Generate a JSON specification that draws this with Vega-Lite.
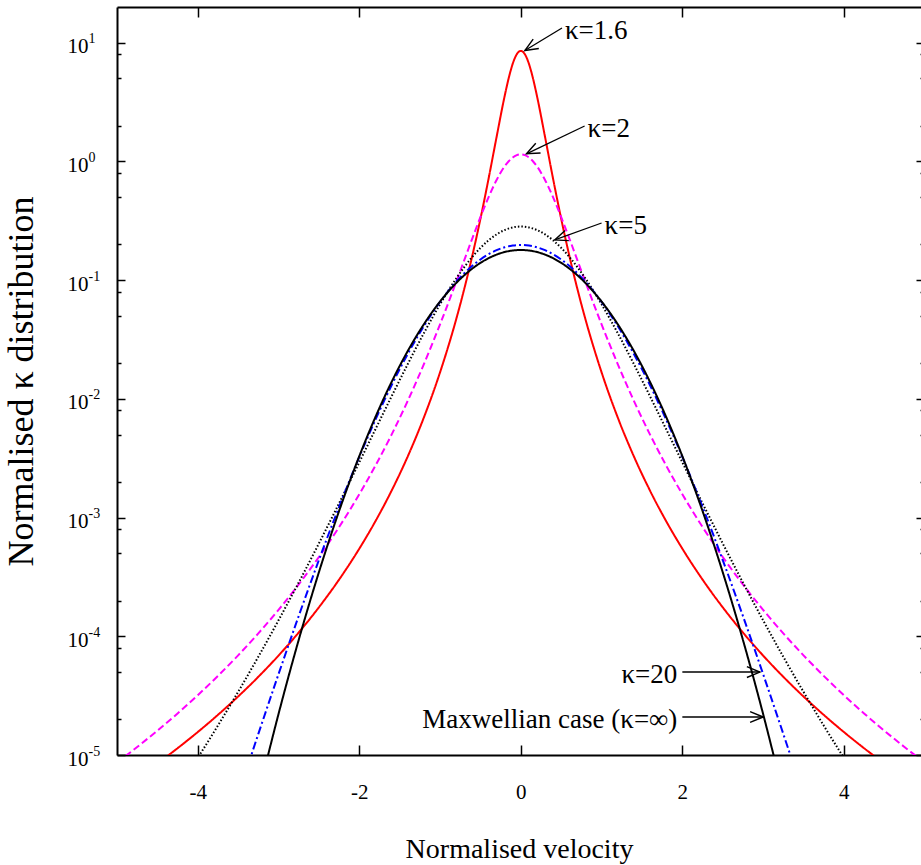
{
  "$schema": "https://vega.github.io/schema/vega-lite/v6.json",
  "width": 804,
  "height": 748,
  "autosize": "none",
  "padding": {"left": 117, "top": 7, "right": 0, "bottom": 110},
  "background": "white",
  "config": {"view": {"stroke": null}, "font": "Liberation Serif", "axis": {"grid": false}},
  "datasets": {
    "curves": [
      {"k":"k16","v":-5,"f":4.921e-6},{"k":"k16","v":-4.75,"f":6.417e-6},{"k":"k16","v":-4.5,"f":8.490e-6},{"k":"k16","v":-4.25,"f":1.141e-5},{"k":"k16","v":-4,"f":1.561e-5},{"k":"k16","v":-3.75,"f":2.179e-5},{"k":"k16","v":-3.5,"f":3.111e-5},{"k":"k16","v":-3.25,"f":4.558e-5},{"k":"k16","v":-3,"f":6.881e-5},{"k":"k16","v":-2.75,"f":1.076e-4},{"k":"k16","v":-2.5,"f":1.754e-4},{"k":"k16","v":-2.25,"f":3.004e-4},{"k":"k16","v":-2,"f":5.469e-4},{"k":"k16","v":-1.8,"f":9.320e-4},{"k":"k16","v":-1.6,"f":1.685e-3},{"k":"k16","v":-1.4,"f":3.274e-3},{"k":"k16","v":-1.2,"f":6.976e-3},{"k":"k16","v":-1,"f":0.01673},{"k":"k16","v":-0.8,"f":0.04690},{"k":"k16","v":-0.7,"f":0.08452},{"k":"k16","v":-0.6,"f":0.1614},{"k":"k16","v":-0.5,"f":0.3285},{"k":"k16","v":-0.4,"f":0.7116},{"k":"k16","v":-0.3,"f":1.608},{"k":"k16","v":-0.2,"f":3.558},{"k":"k16","v":-0.15,"f":5.035},{"k":"k16","v":-0.1,"f":6.661},{"k":"k16","v":-0.05,"f":8.004},
      {"k":"k16","v":0,"f":8.534},
      {"k":"k16","v":0.05,"f":8.004},{"k":"k16","v":0.1,"f":6.661},{"k":"k16","v":0.15,"f":5.035},{"k":"k16","v":0.2,"f":3.558},{"k":"k16","v":0.3,"f":1.608},{"k":"k16","v":0.4,"f":0.7116},{"k":"k16","v":0.5,"f":0.3285},{"k":"k16","v":0.6,"f":0.1614},{"k":"k16","v":0.7,"f":0.08452},{"k":"k16","v":0.8,"f":0.04690},{"k":"k16","v":1,"f":0.01673},{"k":"k16","v":1.2,"f":6.976e-3},{"k":"k16","v":1.4,"f":3.274e-3},{"k":"k16","v":1.6,"f":1.685e-3},{"k":"k16","v":1.8,"f":9.320e-4},{"k":"k16","v":2,"f":5.469e-4},{"k":"k16","v":2.25,"f":3.004e-4},{"k":"k16","v":2.5,"f":1.754e-4},{"k":"k16","v":2.75,"f":1.076e-4},{"k":"k16","v":3,"f":6.881e-5},{"k":"k16","v":3.25,"f":4.558e-5},{"k":"k16","v":3.5,"f":3.111e-5},{"k":"k16","v":3.75,"f":2.179e-5},{"k":"k16","v":4,"f":1.561e-5},{"k":"k16","v":4.25,"f":1.141e-5},{"k":"k16","v":4.5,"f":8.490e-6},{"k":"k16","v":4.75,"f":6.417e-6},{"k":"k16","v":5,"f":4.921e-6},

      {"k":"k2","v":-5,"f":8.642e-6},{"k":"k2","v":-4.75,"f":1.168e-5},{"k":"k2","v":-4.5,"f":1.604e-5},{"k":"k2","v":-4.25,"f":2.240e-5},{"k":"k2","v":-4,"f":3.190e-5},{"k":"k2","v":-3.75,"f":4.640e-5},{"k":"k2","v":-3.5,"f":6.913e-5},{"k":"k2","v":-3.25,"f":1.058e-4},{"k":"k2","v":-3,"f":1.671e-4},{"k":"k2","v":-2.75,"f":2.734e-4},{"k":"k2","v":-2.5,"f":4.659e-4},{"k":"k2","v":-2.25,"f":8.325e-4},{"k":"k2","v":-2,"f":1.572e-3},{"k":"k2","v":-1.8,"f":2.739e-3},{"k":"k2","v":-1.6,"f":5.001e-3},{"k":"k2","v":-1.4,"f":9.625e-3},{"k":"k2","v":-1.2,"f":0.01963},{"k":"k2","v":-1,"f":0.04246},{"k":"k2","v":-0.8,"f":0.09672},{"k":"k2","v":-0.7,"f":0.1477},{"k":"k2","v":-0.6,"f":0.2253},{"k":"k2","v":-0.5,"f":0.3397},{"k":"k2","v":-0.4,"f":0.4984},{"k":"k2","v":-0.3,"f":0.6977},{"k":"k2","v":-0.2,"f":0.9100},{"k":"k2","v":-0.15,"f":1.0045},{"k":"k2","v":-0.1,"f":1.0802},{"k":"k2","v":-0.05,"f":1.1293},
      {"k":"k2","v":0,"f":1.1463},
      {"k":"k2","v":0.05,"f":1.1293},{"k":"k2","v":0.1,"f":1.0802},{"k":"k2","v":0.15,"f":1.0045},{"k":"k2","v":0.2,"f":0.9100},{"k":"k2","v":0.3,"f":0.6977},{"k":"k2","v":0.4,"f":0.4984},{"k":"k2","v":0.5,"f":0.3397},{"k":"k2","v":0.6,"f":0.2253},{"k":"k2","v":0.7,"f":0.1477},{"k":"k2","v":0.8,"f":0.09672},{"k":"k2","v":1,"f":0.04246},{"k":"k2","v":1.2,"f":0.01963},{"k":"k2","v":1.4,"f":9.625e-3},{"k":"k2","v":1.6,"f":5.001e-3},{"k":"k2","v":1.8,"f":2.739e-3},{"k":"k2","v":2,"f":1.572e-3},{"k":"k2","v":2.25,"f":8.325e-4},{"k":"k2","v":2.5,"f":4.659e-4},{"k":"k2","v":2.75,"f":2.734e-4},{"k":"k2","v":3,"f":1.671e-4},{"k":"k2","v":3.25,"f":1.058e-4},{"k":"k2","v":3.5,"f":6.913e-5},{"k":"k2","v":3.75,"f":4.640e-5},{"k":"k2","v":4,"f":3.190e-5},{"k":"k2","v":4.25,"f":2.240e-5},{"k":"k2","v":4.5,"f":1.604e-5},{"k":"k2","v":4.75,"f":1.168e-5},{"k":"k2","v":5,"f":8.642e-6},

      {"k":"k5","v":-4.25,"f":5.175e-6},{"k":"k5","v":-4,"f":9.461e-6},{"k":"k5","v":-3.75,"f":1.773e-5},{"k":"k5","v":-3.5,"f":3.408e-5},{"k":"k5","v":-3.25,"f":6.726e-5},{"k":"k5","v":-3,"f":1.364e-4},{"k":"k5","v":-2.75,"f":2.838e-4},{"k":"k5","v":-2.5,"f":6.055e-4},{"k":"k5","v":-2.25,"f":1.320e-3},{"k":"k5","v":-2,"f":2.923e-3},{"k":"k5","v":-1.8,"f":5.548e-3},{"k":"k5","v":-1.6,"f":0.01050},{"k":"k5","v":-1.4,"f":0.01963},{"k":"k5","v":-1.2,"f":0.03579},{"k":"k5","v":-1,"f":0.06264},{"k":"k5","v":-0.8,"f":0.1033},{"k":"k5","v":-0.7,"f":0.1289},{"k":"k5","v":-0.6,"f":0.1573},{"k":"k5","v":-0.5,"f":0.1870},{"k":"k5","v":-0.4,"f":0.2164},{"k":"k5","v":-0.3,"f":0.2430},{"k":"k5","v":-0.2,"f":0.2643},{"k":"k5","v":-0.1,"f":0.2781},
      {"k":"k5","v":0,"f":0.2829},
      {"k":"k5","v":0.1,"f":0.2781},{"k":"k5","v":0.2,"f":0.2643},{"k":"k5","v":0.3,"f":0.2430},{"k":"k5","v":0.4,"f":0.2164},{"k":"k5","v":0.5,"f":0.1870},{"k":"k5","v":0.6,"f":0.1573},{"k":"k5","v":0.7,"f":0.1289},{"k":"k5","v":0.8,"f":0.1033},{"k":"k5","v":1,"f":0.06264},{"k":"k5","v":1.2,"f":0.03579},{"k":"k5","v":1.4,"f":0.01963},{"k":"k5","v":1.6,"f":0.01050},{"k":"k5","v":1.8,"f":5.548e-3},{"k":"k5","v":2,"f":2.923e-3},{"k":"k5","v":2.25,"f":1.320e-3},{"k":"k5","v":2.5,"f":6.055e-4},{"k":"k5","v":2.75,"f":2.838e-4},{"k":"k5","v":3,"f":1.364e-4},{"k":"k5","v":3.25,"f":6.726e-5},{"k":"k5","v":3.5,"f":3.408e-5},{"k":"k5","v":3.75,"f":1.773e-5},{"k":"k5","v":4,"f":9.461e-6},{"k":"k5","v":4.25,"f":5.175e-6},

      {"k":"k20","v":-3.5,"f":4.599e-6},{"k":"k20","v":-3.25,"f":1.505e-5},{"k":"k20","v":-3,"f":4.802e-5},{"k":"k20","v":-2.75,"f":1.483e-4},{"k":"k20","v":-2.5,"f":4.389e-4},{"k":"k20","v":-2.25,"f":1.232e-3},{"k":"k20","v":-2,"f":3.248e-3},{"k":"k20","v":-1.8,"f":6.682e-3},{"k":"k20","v":-1.6,"f":0.01303},{"k":"k20","v":-1.4,"f":0.02390},{"k":"k20","v":-1.2,"f":0.04104},{"k":"k20","v":-1,"f":0.06556},{"k":"k20","v":-0.8,"f":0.09697},{"k":"k20","v":-0.7,"f":0.11439},{"k":"k20","v":-0.6,"f":0.13214},{"k":"k20","v":-0.5,"f":0.14941},{"k":"k20","v":-0.4,"f":0.16529},{"k":"k20","v":-0.3,"f":0.17887},{"k":"k20","v":-0.2,"f":0.18928},{"k":"k20","v":-0.1,"f":0.19582},
      {"k":"k20","v":0,"f":0.19806},
      {"k":"k20","v":0.1,"f":0.19582},{"k":"k20","v":0.2,"f":0.18928},{"k":"k20","v":0.3,"f":0.17887},{"k":"k20","v":0.4,"f":0.16529},{"k":"k20","v":0.5,"f":0.14941},{"k":"k20","v":0.6,"f":0.13214},{"k":"k20","v":0.7,"f":0.11439},{"k":"k20","v":0.8,"f":0.09697},{"k":"k20","v":1,"f":0.06556},{"k":"k20","v":1.2,"f":0.04104},{"k":"k20","v":1.4,"f":0.02390},{"k":"k20","v":1.6,"f":0.01303},{"k":"k20","v":1.8,"f":6.682e-3},{"k":"k20","v":2,"f":3.248e-3},{"k":"k20","v":2.25,"f":1.232e-3},{"k":"k20","v":2.5,"f":4.389e-4},{"k":"k20","v":2.75,"f":1.483e-4},{"k":"k20","v":3,"f":4.802e-5},{"k":"k20","v":3.25,"f":1.505e-5},{"k":"k20","v":3.5,"f":4.599e-6},

      {"k":"kinf","v":-3.25,"f":4.646e-6},{"k":"kinf","v":-3,"f":2.216e-5},{"k":"kinf","v":-2.75,"f":9.331e-5},{"k":"kinf","v":-2.5,"f":3.467e-4},{"k":"kinf","v":-2.25,"f":1.137e-3},{"k":"kinf","v":-2,"f":3.289e-3},{"k":"kinf","v":-1.8,"f":7.033e-3},{"k":"kinf","v":-1.6,"f":0.01388},{"k":"kinf","v":-1.4,"f":0.02530},{"k":"kinf","v":-1.2,"f":0.04255},{"k":"kinf","v":-1,"f":0.06607},{"k":"kinf","v":-0.8,"f":0.09470},{"k":"kinf","v":-0.7,"f":0.11002},{"k":"kinf","v":-0.6,"f":0.12529},{"k":"kinf","v":-0.5,"f":0.13986},{"k":"kinf","v":-0.4,"f":0.15303},{"k":"kinf","v":-0.3,"f":0.16413},{"k":"kinf","v":-0.2,"f":0.17255},{"k":"kinf","v":-0.1,"f":0.17780},
      {"k":"kinf","v":0,"f":0.17959},
      {"k":"kinf","v":0.1,"f":0.17780},{"k":"kinf","v":0.2,"f":0.17255},{"k":"kinf","v":0.3,"f":0.16413},{"k":"kinf","v":0.4,"f":0.15303},{"k":"kinf","v":0.5,"f":0.13986},{"k":"kinf","v":0.6,"f":0.12529},{"k":"kinf","v":0.7,"f":0.11002},{"k":"kinf","v":0.8,"f":0.09470},{"k":"kinf","v":1,"f":0.06607},{"k":"kinf","v":1.2,"f":0.04255},{"k":"kinf","v":1.4,"f":0.02530},{"k":"kinf","v":1.6,"f":0.01388},{"k":"kinf","v":1.8,"f":7.033e-3},{"k":"kinf","v":2,"f":3.289e-3},{"k":"kinf","v":2.25,"f":1.137e-3},{"k":"kinf","v":2.5,"f":3.467e-4},{"k":"kinf","v":2.75,"f":9.331e-5},{"k":"kinf","v":3,"f":2.216e-5},{"k":"kinf","v":3.25,"f":4.646e-6}
    ],
    "arrows": [
      {"id":"a16","text":"κ=1.6","v0":0.51,"f0":13.3,"v1":0.05,"f1":8.6},
      {"id":"a2","text":"κ=2","v0":0.79,"f0":1.99,"v1":0.07,"f1":1.16},
      {"id":"a5","text":"κ=5","v0":1.0,"f0":0.303,"v1":0.42,"f1":0.218},
      {"id":"a20","text":"κ=20","v0":2.0,"f0":5.0e-5,"v1":2.96,"f1":5.0e-5},
      {"id":"ainf","text":"Maxwellian case (κ=∞)","v0":2.0,"f0":2.09e-5,"v1":3.0,"f1":2.09e-5}
    ]
  },
  "resolve": {"axis": {"x": "independent", "y": "independent"}},
  "layer": [
    {
      "data": {"name": "curves"},
      "mark": {"type": "line", "clip": true, "interpolate": "monotone", "strokeWidth": 2},
      "encoding": {
        "x": {"field": "v", "type": "quantitative",
          "scale": {"domain": [-5, 4.955], "nice": false, "zero": false},
          "axis": {"orient": "bottom", "values": [-4, -2, 0, 2, 4], "tickSize": -10, "tickWidth": 1.5, "tickColor": "black",
            "domainColor": "black", "domainWidth": 2, "labelFont": "Liberation Serif", "labelFontSize": 21, "labelColor": "black",
            "labelExpr": "datum.value < 0 ? '-' + abs(datum.value) : '' + datum.value",
            "labelPadding": 47, "labelBaseline": "middle", "labelFlush": false, "labelOverlap": false,
            "title": "Normalised velocity", "titleFont": "Liberation Serif", "titleFontSize": 28, "titleFontWeight": "normal",
            "titleColor": "black", "titleY": 102, "titleBaseline": "alphabetic", "grid": false}},
        "y": {"field": "f", "type": "quantitative",
          "scale": {"type": "log", "domain": [1e-5, 20], "nice": false},
          "axis": {"orient": "left",
            "values": [1e-5, 2e-5, 5e-5, 8e-5, 1e-4, 2e-4, 5e-4, 8e-4, 0.001, 0.002, 0.005, 0.008, 0.01, 0.02, 0.05, 0.08, 0.1, 0.2, 0.5, 0.8, 1, 2, 5, 8, 10],
            "tickSize": {"condition": {"test": "abs(log(datum.value)/LN10 - round(log(datum.value)/LN10)) < 0.01", "value": -8}, "value": -4},
            "tickWidth": 1.5, "tickColor": "black", "domainColor": "black", "domainWidth": 2,
            "labelExpr": "abs(log(datum.value)/LN10 - round(log(datum.value)/LN10)) < 0.01 ? '10' : ''",
            "labelFont": "Liberation Serif", "labelFontSize": 21, "labelColor": "black", "labelPadding": 37, "labelOffset": 4,
            "labelAlign": "right", "labelBaseline": "middle", "labelOverlap": false, "labelFlush": false,
            "title": "Normalised κ distribution", "titleFont": "Liberation Serif", "titleFontSize": 36, "titleFontWeight": "normal",
            "titleColor": "black", "titleX": -85, "titleBaseline": "alphabetic", "grid": false}},
        "color": {"field": "k", "type": "nominal", "legend": null,
          "scale": {"domain": ["k16", "k2", "k5", "k20", "kinf"], "range": ["#ff0000", "#ff00ff", "#000000", "#0000ff", "#000000"]}},
        "strokeDash": {"field": "k", "type": "nominal", "legend": null,
          "scale": {"domain": ["k16", "k2", "k5", "k20", "kinf"], "range": [[1, 0], [7, 3.5], [1.5, 2], [8, 3, 2, 3], [1, 0]]}}
      }
    },
    {
      "data": {"name": "arrows"},
      "mark": {"type": "rule", "color": "black", "strokeWidth": 1.3},
      "encoding": {
        "x": {"field": "v0", "type": "quantitative", "scale": {"domain": [-5, 4.955], "nice": false, "zero": false},
          "axis": {"orient": "top", "values": [-4, -2, 0, 2, 4], "tickSize": -10, "tickWidth": 1.5, "tickColor": "black",
            "domainColor": "black", "domainWidth": 2, "labels": false, "title": null, "grid": false}},
        "y": {"field": "f0", "type": "quantitative", "scale": {"type": "log", "domain": [1e-5, 20], "nice": false},
          "axis": {"orient": "right", "offset": 3,
            "values": [1e-5, 2e-5, 5e-5, 8e-5, 1e-4, 2e-4, 5e-4, 8e-4, 0.001, 0.002, 0.005, 0.008, 0.01, 0.02, 0.05, 0.08, 0.1, 0.2, 0.5, 0.8, 1, 2, 5, 8, 10],
            "tickSize": {"condition": {"test": "abs(log(datum.value)/LN10 - round(log(datum.value)/LN10)) < 0.01", "value": -8}, "value": -4},
            "tickWidth": 1.5, "tickColor": "black", "domain": false, "labels": false, "title": null, "grid": false}},
        "x2": {"field": "v1"},
        "y2": {"field": "f1"}
      }
    },
    {
      "data": {"name": "arrows"},
      "mark": {"type": "point", "shape": "M-1,-0.42L0,0L-1,0.42", "filled": false, "stroke": "black", "strokeWidth": 1.4, "size": 676, "opacity": 1},
      "encoding": {
        "x": {"field": "v1", "type": "quantitative", "axis": null},
        "y": {"field": "f1", "type": "quantitative",
          "axis": {"orient": "left", "values": [1e-5, 1e-4, 0.001, 0.01, 0.1, 1, 10],
            "tickSize": -8, "tickOpacity": 0, "domain": false, "grid": false, "title": null,
            "labelExpr": "(round(log(datum.value)/LN10) < 0 ? '-' : '') + abs(round(log(datum.value)/LN10))",
            "labelFont": "Liberation Serif", "labelFontSize": 14, "labelColor": "black", "labelPadding": 37, "labelOffset": -4,
            "labelAlign": "left", "labelBaseline": "middle", "labelOverlap": false, "labelFlush": false}},
        "angle": {"field": "id", "type": "nominal", "legend": null,
          "scale": {"type": "ordinal", "domain": ["a16", "a2", "a5", "a20", "ainf"], "range": [149, 154, 160, 0, 0]}}
      }
    },
    {
      "data": {"name": "arrows"},
      "transform": [{"filter": "datum.id == 'a16' || datum.id == 'a2' || datum.id == 'a5'"}],
      "mark": {"type": "text", "align": "left", "baseline": "middle", "dx": 3, "dy": 3, "font": "Liberation Serif", "fontSize": 27, "color": "black"},
      "encoding": {
        "x": {"field": "v0", "type": "quantitative", "axis": null},
        "y": {"field": "f0", "type": "quantitative", "axis": null},
        "text": {"field": "text"}
      }
    },
    {
      "data": {"name": "arrows"},
      "transform": [{"filter": "datum.id == 'a20' || datum.id == 'ainf'"}],
      "mark": {"type": "text", "align": "right", "baseline": "middle", "dx": -5, "dy": 3, "font": "Liberation Serif", "fontSize": 27, "color": "black"},
      "encoding": {
        "x": {"field": "v0", "type": "quantitative", "axis": null},
        "y": {"field": "f0", "type": "quantitative", "axis": null},
        "text": {"field": "text"}
      }
    }
  ]
}
